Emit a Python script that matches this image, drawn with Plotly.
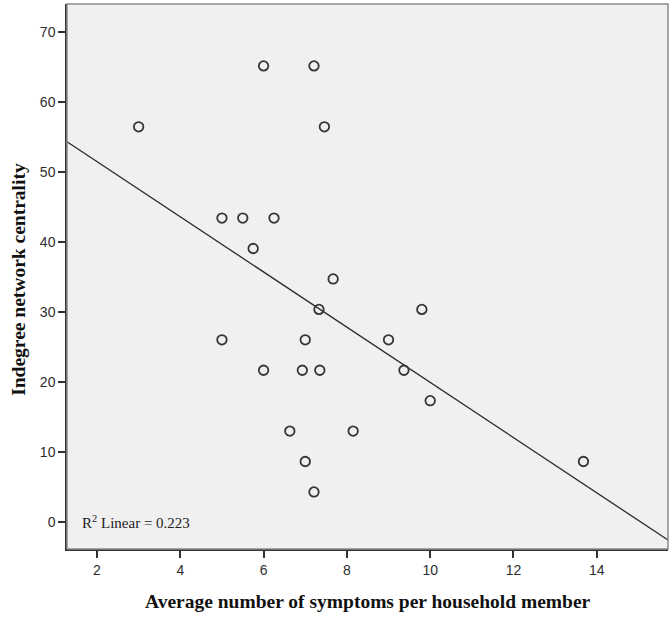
import numpy as np
import plotly.graph_objects as go

# Average number of symptoms per household member
symptoms = [3.0, 6.0, 7.21, 7.46, 5.0, 5.5, 6.25, 5.75, 7.67, 7.33, 9.8, 5.0,
            7.0, 9.0, 6.0, 6.93, 7.35, 9.37, 10.0, 6.63, 8.15, 7.0, 13.68, 7.21]
# Indegree network centrality (percent)
centrality = [56.52, 65.22, 65.22, 56.52, 43.48, 43.48, 43.48, 39.13, 34.78, 30.43, 30.43, 26.09,
              26.09, 26.09, 21.74, 21.74, 21.74, 21.74, 17.39, 13.04, 13.04, 8.70, 8.70, 4.35]

x_ticks = [2, 4, 6, 8, 10, 12, 14]
y_ticks = [0, 10, 20, 30, 40, 50, 60, 70]
x_range = [1.28, 15.71]
y_range = [-3.8, 74.06]
r2_label = "R<sup>2</sup> Linear = 0.223"
x_title = "Average number of symptoms per household member"
y_title = "Indegree network centrality"

slope, intercept = np.polyfit(symptoms, centrality, 1)
fit_x = np.array(x_range)
fit_y = slope * fit_x + intercept

fig = go.Figure()
fig.add_trace(go.Scatter(
    x=fit_x, y=fit_y, mode="lines",
    line=dict(color="#2a2a2a", width=1.3),
    hoverinfo="skip", showlegend=False,
))
fig.add_trace(go.Scatter(
    x=symptoms, y=centrality, mode="markers",
    marker=dict(symbol="circle-open", size=9.5, color="#363636", line=dict(width=1.8, color="#363636")),
    showlegend=False,
))

fig.add_shape(type="rect", xref="paper", yref="paper", x0=0, y0=0, x1=1, y1=1,
              line=dict(color="#8a8a8a", width=1.5), layer="above")

serif = "Liberation Serif, Times New Roman, serif"
fig.add_annotation(
    x=0.022, y=0.0, xref="paper", yref="y", xanchor="left", yanchor="middle",
    text=r2_label, showarrow=False,
    font=dict(family=serif, size=15, color="#222222"),
)

title_font = dict(family=serif, size=19.5, color="#111111")
# axis titles placed as paper annotations
fig.add_annotation(
    x=0.5, y=-0.096, xref="paper", yref="paper", xanchor="center", yanchor="middle",
    text="<b>" + x_title + "</b>", showarrow=False, font=title_font,
)
fig.add_annotation(
    x=-0.0805, y=0.495, xref="paper", yref="paper", xanchor="center", yanchor="middle",
    text="<b>" + y_title + "</b>", showarrow=False, font=title_font, textangle=-90,
)

tick_font = dict(family="Liberation Sans, Arial, sans-serif", size=14, color="#2e2e2e")

fig.update_xaxes(
    range=x_range, tickvals=x_ticks, ticktext=[str(v) for v in x_ticks],
    showgrid=False, zeroline=False, automargin=False,
    showline=True, linecolor="#333333", linewidth=1.5,
    ticks="outside", ticklen=7, tickwidth=1.5, tickcolor="#333333",
    tickfont=tick_font,
)
fig.update_yaxes(
    range=y_range, tickvals=y_ticks, ticktext=[str(v) for v in y_ticks],
    showgrid=False, zeroline=False, automargin=False,
    showline=True, linecolor="#333333", linewidth=1.5,
    ticks="outside", ticklen=7, tickwidth=1.5, tickcolor="#333333",
    tickfont=tick_font,
)

fig.update_layout(
    width=670, height=619,
    margin=dict(l=67, r=2, t=4, b=70, autoexpand=False),
    plot_bgcolor="#f0f0f0", paper_bgcolor="white",
)

fig.write_html("out.html", config={"displayModeBar": False},
               post_script="document.body.style.margin='0';")
